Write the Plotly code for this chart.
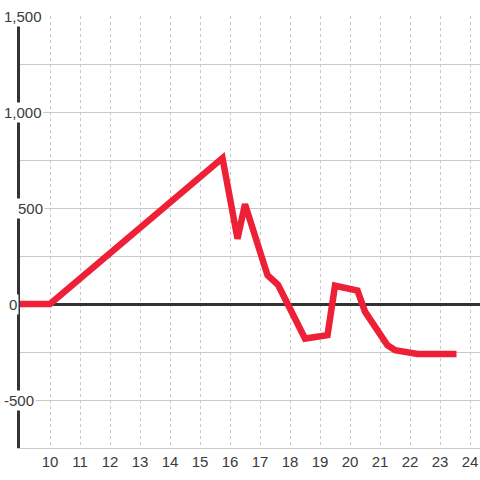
import plotly.graph_objects as go

x_vals = [9, 10, 15.75, 16.25, 16.5, 17.25, 17.6, 18.5, 19.25, 19.5, 20.25, 20.5, 21.25, 21.5, 22.25, 23.55]
y_vals = [0, 0, 760, 340, 520, 150, 100, -180, -162, 95, 70, -40, -215, -240, -260, -260]

x_ticks = [10, 11, 12, 13, 14, 15, 16, 17, 18, 19, 20, 21, 22, 23, 24]
y_tick_vals = [1500, 1000, 500, 0, -500]
y_tick_text = ["1,500", "1,000", "500", "0", "-500"]

# label placement (pixel x of anchor, anchor side)
label_px = [44, 44, 45, 7, 2]
label_anchor = ["right", "right", "right", "left", "left"]

PLOT_L, PLOT_W = 20, 460

fig = go.Figure()
fig.add_trace(go.Scatter(x=x_vals, y=y_vals, mode="lines",
                         line=dict(color="#ee2037", width=6.5), hoverinfo="skip"))

font = dict(family="Liberation Sans, Arial, sans-serif", size=15, color="#3a3a3a")

fig.update_layout(
    width=480, height=480,
    margin=dict(l=PLOT_L, r=0, t=16, b=32),
    paper_bgcolor="white", plot_bgcolor="white",
    showlegend=False,
    font=font,
    xaxis=dict(range=[9, 24.333], tickvals=x_ticks, ticktext=[str(v) for v in x_ticks],
               showgrid=True, gridcolor="#c8c8c8", griddash="dot", gridwidth=1,
               showline=True, linecolor="#c8c8c8", linewidth=1,
               zeroline=False, ticks="", tickfont=font),
    yaxis=dict(range=[-750, 1500], dtick=250, tick0=0,
               showgrid=True, gridcolor="#c8c8c8", gridwidth=1,
               showline=True, linecolor="#333333", linewidth=3,
               zeroline=True, zerolinecolor="#333333", zerolinewidth=3,
               showticklabels=False, ticks=""),
)

for v, t, px, anc in zip(y_tick_vals, y_tick_text, label_px, label_anchor):
    fig.add_annotation(x=(px - PLOT_L) / PLOT_W, xref="paper", y=v, yref="y", text=t,
                       showarrow=False, xanchor=anc, yanchor="middle",
                       bgcolor="white", borderpad=1, font=font)

fig.write_html("out.html", config={"displayModeBar": False},
               post_script="document.body.style.margin='0';document.body.style.overflow='hidden';")
